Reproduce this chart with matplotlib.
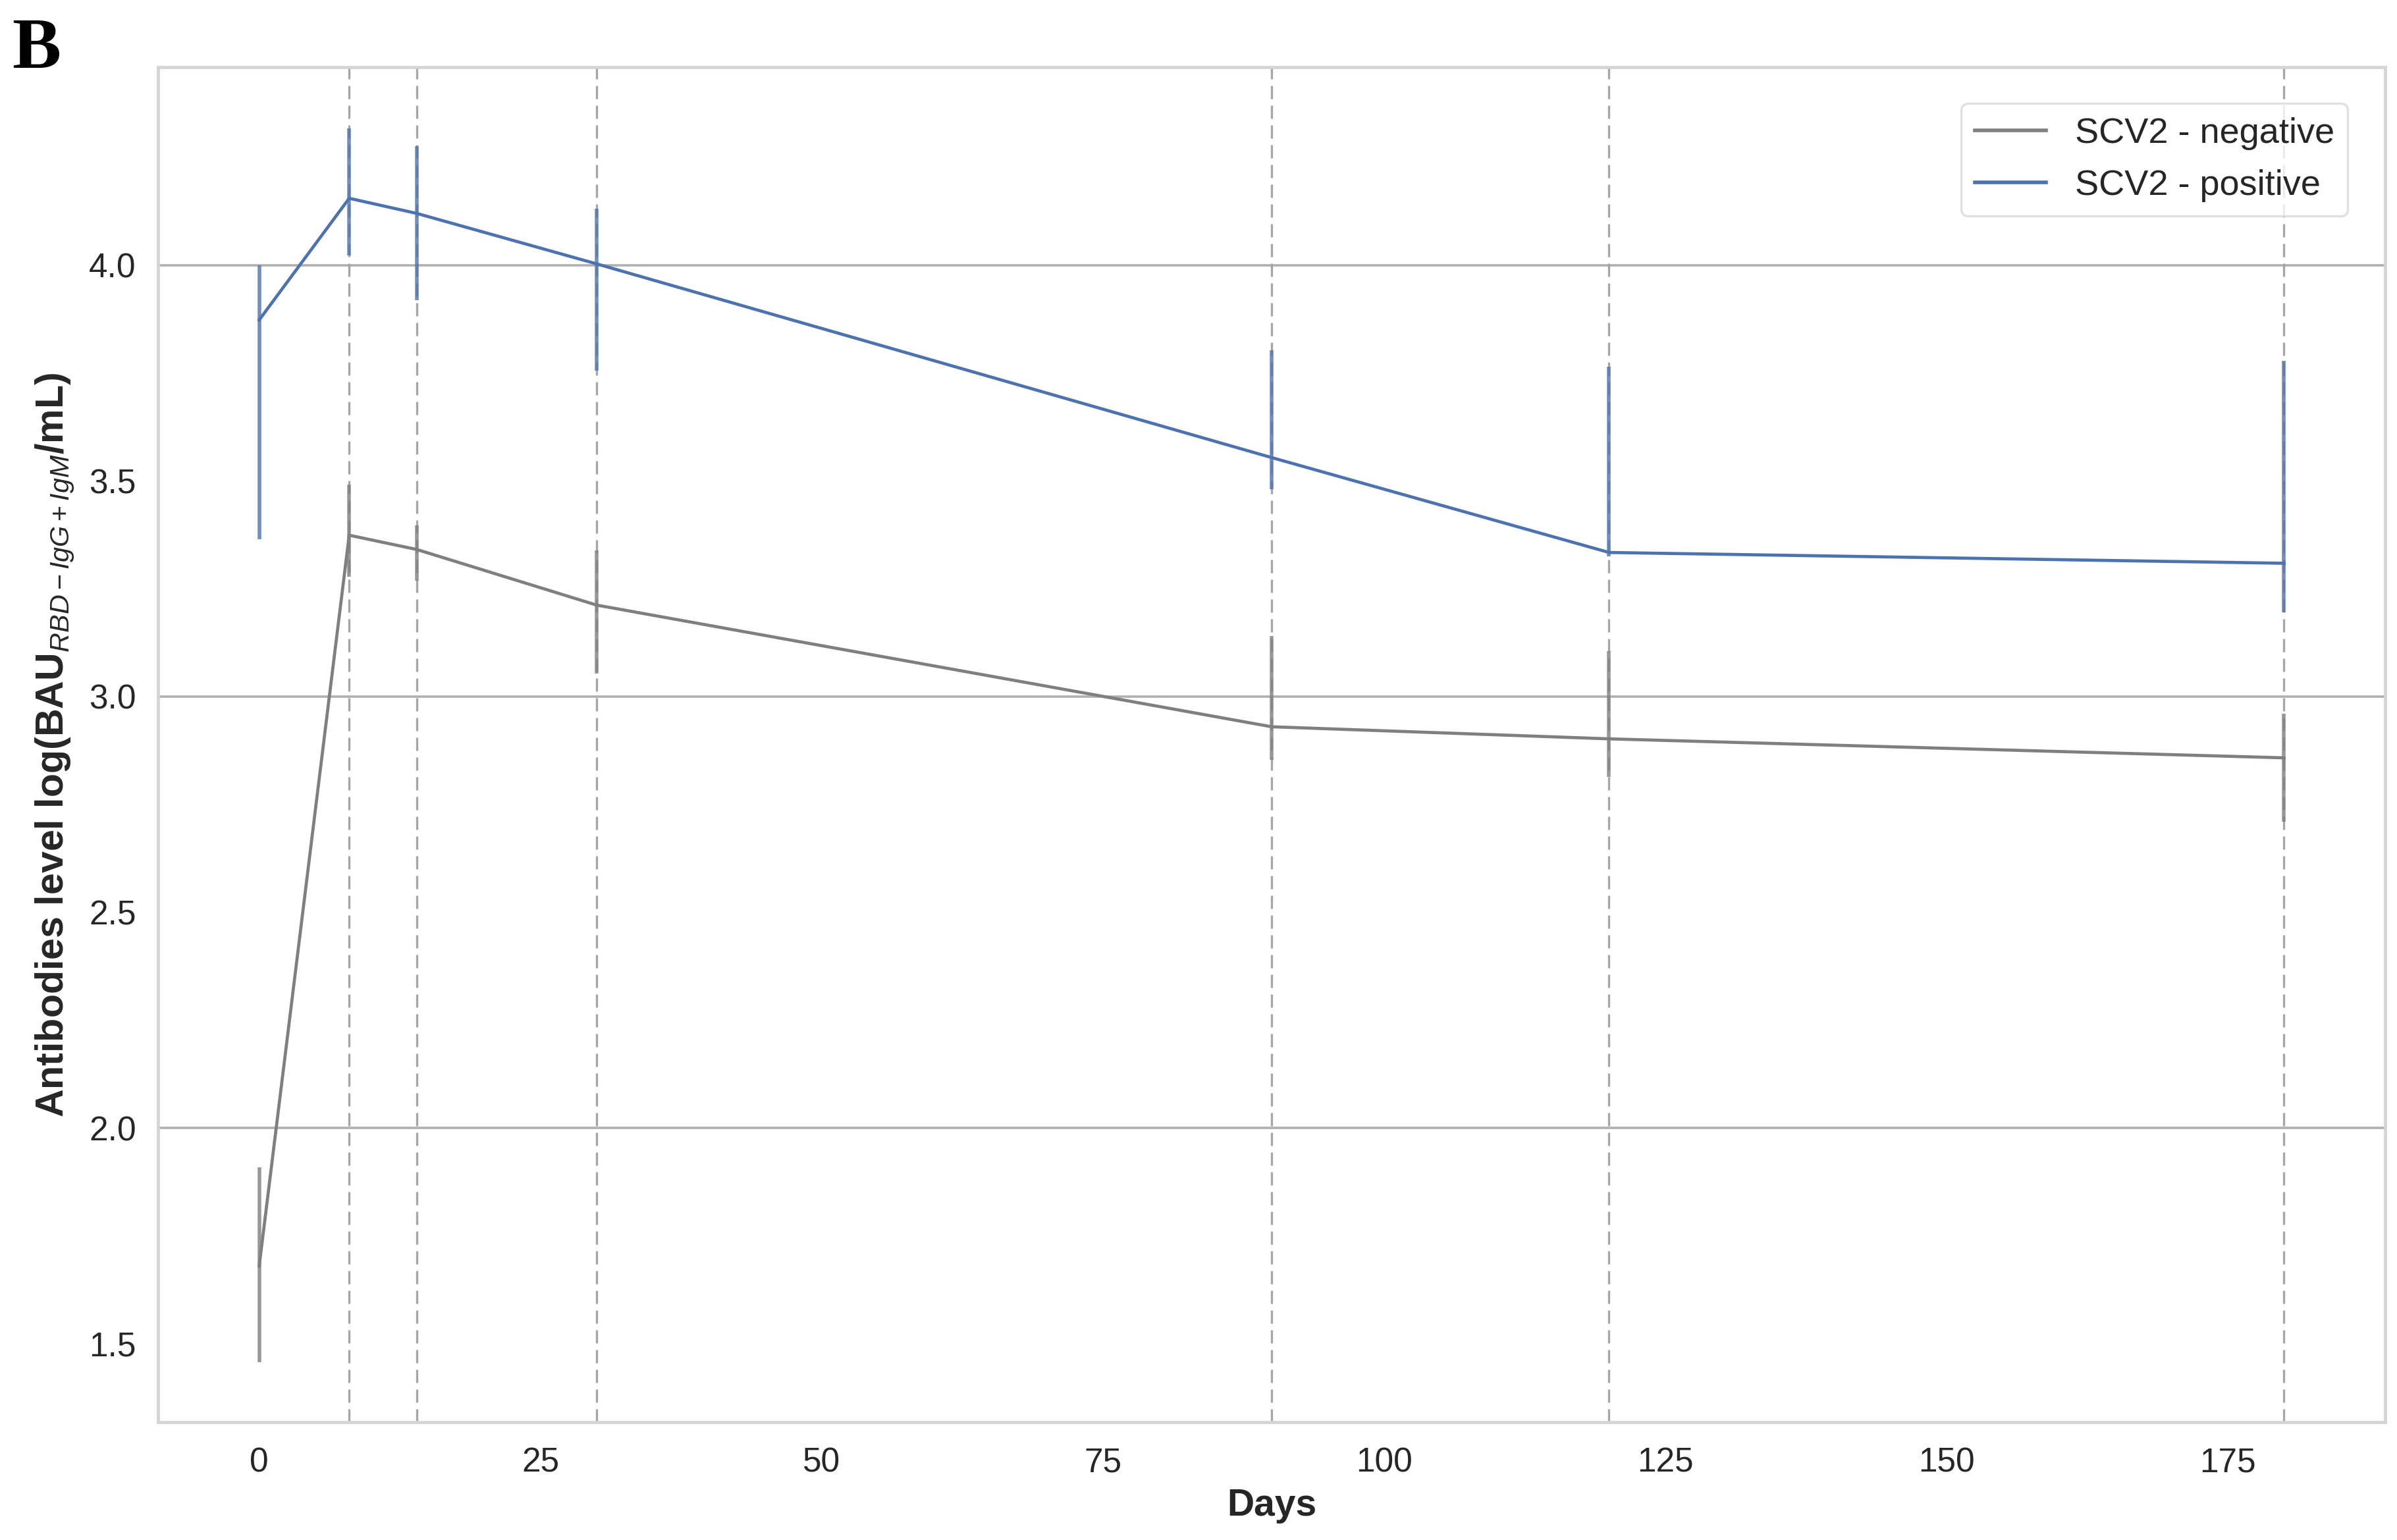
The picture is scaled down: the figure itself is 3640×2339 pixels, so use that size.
import matplotlib
matplotlib.use("Agg")
import matplotlib.pyplot as plt
from matplotlib.ticker import MultipleLocator, FormatStrFormatter
import numpy as np

# ---- data ----
days = [0, 8, 14, 30, 90, 120, 180]
marker_days = [8, 14, 30, 90, 120, 180]   # dashed reference lines
series_labels = ["SCV2 - negative", "SCV2 - positive"]

neg_mean = [1.680, 3.374, 3.341, 3.212, 2.930, 2.902, 2.858]
neg_low = [1.457, 3.278, 3.269, 3.054, 2.853, 2.814, 2.710]
neg_high = [1.909, 3.492, 3.397, 3.339, 3.140, 3.106, 2.960]

pos_mean = [3.873, 4.155, 4.120, 4.003, 3.554, 3.334, 3.309]
pos_low = [3.365, 4.022, 3.919, 3.756, 3.480, 3.325, 3.196]
pos_high = [4.000, 4.317, 4.276, 4.131, 3.803, 3.764, 3.779]

x_label = "Days"
y_label = r"Antibodies level log(BAU$_{RBD-IgG+IgM}$/mL)"
panel_letter = "B"

# ---- style ----
plt.rcParams["font.family"] = ["Liberation Sans", "DejaVu Sans"]
plt.rcParams["mathtext.fontset"] = "custom"
plt.rcParams["mathtext.rm"] = "Liberation Sans"
plt.rcParams["mathtext.it"] = "Liberation Sans:italic"
plt.rcParams["mathtext.bf"] = "Liberation Sans:bold"

colors = ["#7f7f7f", "#4c72b0"]
text_color = "#262626"

fig = plt.figure(figsize=(18.2, 11.695), dpi=200)
ax = fig.add_axes([0.0659, 0.0765, 0.9292, 0.8799])

for d in marker_days:
    ax.axvline(d, color="#a6a6a6", lw=1.2, linestyle=(0, (6, 3)), zorder=2)

groups = [(neg_mean, neg_low, neg_high), (pos_mean, pos_low, pos_high)]
for (m, lo, hi), c, lab in zip(groups, colors, series_labels):
    m = np.array(m); lo = np.array(lo); hi = np.array(hi)
    ax.plot(days, m, color=c, lw=1.7, label=lab, zorder=4)
    eb = ax.errorbar(days, m, yerr=[m - lo, hi - m], fmt="none", ecolor=c,
                     elinewidth=2.0, capsize=0, zorder=3, alpha=0.8)

ax.set_xlim(-9, 189)
ax.set_ylim(1.318, 4.459)
ax.xaxis.set_major_locator(MultipleLocator(25))
ax.yaxis.set_major_locator(MultipleLocator(0.5))
ax.yaxis.set_minor_locator(MultipleLocator(1.0))
ax.yaxis.remove_overlapping_locs = False
ax.yaxis.set_major_formatter(FormatStrFormatter("%.1f"))

ax.grid(False)
ax.yaxis.grid(True, which="minor", color="#b0b0b0", lw=1.3, zorder=0)
ax.set_axisbelow(True)

ax.tick_params(axis="both", which="both", length=0, labelsize=18.5,
               labelcolor=text_color)
ax.tick_params(axis="y", pad=12)
ax.tick_params(axis="x", pad=13.5)

for sp in ax.spines.values():
    sp.set_color("#d4d4d4")
    sp.set_linewidth(1.7)

ax.set_xlabel(x_label, fontsize=20.5, fontweight="bold", color=text_color,
              labelpad=5)
ax.set_ylabel(y_label, fontsize=21.3, fontweight="bold", color=text_color,
              labelpad=7)

leg = ax.legend(loc="upper right", bbox_to_anchor=(0.9832, 0.9733),
                borderaxespad=0, fontsize=19.5, frameon=True, fancybox=True,
                labelspacing=0.55, borderpad=0.38)
leg.get_frame().set_edgecolor("#d9d9d9")
leg.get_frame().set_linewidth(1.2)
for t in leg.get_texts():
    t.set_color(text_color)
for h in leg.get_lines():
    h.set_linewidth(2.0)

fig.text(0.005, 0.956, panel_letter, fontsize=40, fontweight="bold",
         family=["Liberation Serif", "DejaVu Serif"], color="black",
         ha="left", va="baseline")

fig.savefig("out.png", dpi=200, facecolor="white")
